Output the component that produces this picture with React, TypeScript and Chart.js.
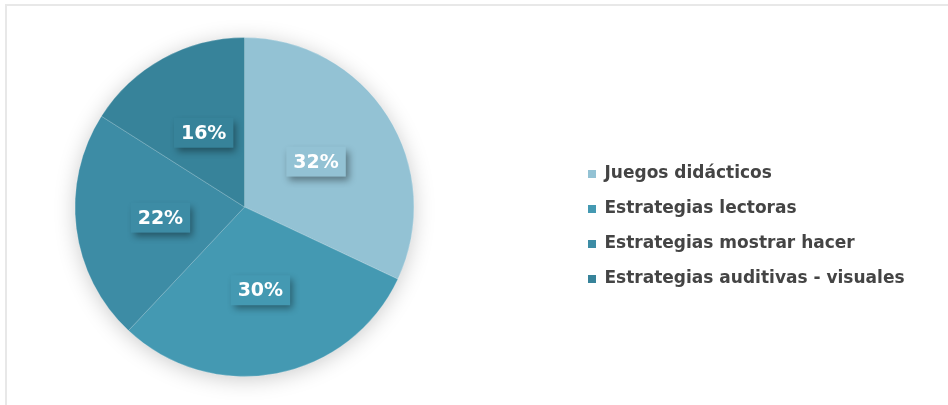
import React, { useEffect, useRef } from "react";
import { Chart, registerables } from "chart.js";

Chart.register(...registerables);

const categories = [
  "Juegos didácticos",
  "Estrategias lectoras",
  "Estrategias mostrar hacer",
  "Estrategias auditivas - visuales",
];
const values = [32, 30, 22, 16];
const sliceColors = ["#93C2D4", "#4499B2", "#3D8CA5", "#37839A"];

const LEGEND_FONT = '"DejaVu Sans"';
const LEGEND_SIZE = 17;
const LABEL_FONT = '"DejaVu Sans"';
const LABEL_SIZE = 19;

const SHIFT = 81;
const VIEW_W = 948;
const VIEW_H = 405;
const CANVAS_W = VIEW_W + SHIFT;

export default function App() {
  const ref = useRef<HTMLCanvasElement | null>(null);

  useEffect(() => {
    const canvas = ref.current;
    if (!canvas) return;

    const mctx = document.createElement("canvas").getContext("2d")!;
    mctx.font = `bold ${LEGEND_SIZE}px ${LEGEND_FONT}`;
    const tw = Math.max(...categories.map((c) => mctx.measureText(c).width));
    const boxW = 8;
    const labelPad = 18;
    const legendW = labelPad + boxW + LEGEND_SIZE / 2 + tw + 10;
    const chartRight = 570 + SHIFT;
    const padRight = Math.max(CANVAS_W - chartRight - legendW, 0);

    const frame = {
      id: "frame",
      beforeDraw(chart: any) {
        const ctx = chart.ctx;
        ctx.save();
        ctx.fillStyle = "#e8e8e8";
        ctx.fillRect(SHIFT + 5, 4, CANVAS_W - SHIFT - 5, 2);
        ctx.fillRect(SHIFT + 5, 4, 2, VIEW_H - 4);
        ctx.restore();
      },
    };

    const pieShadow = {
      id: "pieShadow",
      beforeDatasetsDraw(chart: any) {
        const arc = chart.getDatasetMeta(0).data[0];
        if (!arc) return;
        const ctx = chart.ctx;
        ctx.save();
        ctx.shadowColor = "rgba(0,0,0,0.22)";
        ctx.shadowBlur = 22;
        ctx.shadowOffsetX = 0;
        ctx.shadowOffsetY = 3;
        ctx.fillStyle = "#3D8CA5";
        ctx.beginPath();
        ctx.arc(arc.x, arc.y, arc.outerRadius - 1, 0, Math.PI * 2);
        ctx.fill();
        ctx.restore();
      },
    };

    const boxLabels = {
      id: "boxLabels",
      afterDatasetsDraw(chart: any) {
        const ctx = chart.ctx;
        const meta = chart.getDatasetMeta(0);
        meta.data.forEach((arc: any, i: number) => {
          const { x, y } = arc.tooltipPosition(false);
          const text = values[i] + "%";
          ctx.save();
          ctx.font = `bold ${LABEL_SIZE}px ${LABEL_FONT}`;
          const w = ctx.measureText(text).width + 14;
          const h = 30;
          ctx.shadowColor = "rgba(0,0,0,0.38)";
          ctx.shadowBlur = 7;
          ctx.shadowOffsetX = 3;
          ctx.shadowOffsetY = 4;
          ctx.fillStyle = sliceColors[i];
          ctx.fillRect(x - w / 2, y - h / 2, w, h);
          ctx.restore();
          ctx.save();
          ctx.font = `bold ${LABEL_SIZE}px ${LABEL_FONT}`;
          ctx.fillStyle = "#ffffff";
          ctx.textAlign = "center";
          ctx.textBaseline = "middle";
          ctx.fillText(text, x, y + 1);
          ctx.restore();
        });
      },
    };

    const chart = new Chart(canvas, {
      type: "pie",
      data: {
        labels: categories,
        datasets: [
          {
            data: values,
            backgroundColor: sliceColors,
            borderColor: "rgba(255,255,255,0.22)",
            borderWidth: 1,
          },
        ],
      },
      options: {
        responsive: false,
        animation: false,
        layout: {
          padding: { left: 0, top: 37, bottom: 28, right: padRight },
        },
        plugins: {
          tooltip: { enabled: false },
          legend: {
            position: "right",
            align: "center",
            title: {
              display: true,
              text: "",
              font: { size: 12 },
              padding: { top: 0, bottom: 24.6 },
            },
            labels: {
              boxWidth: boxW,
              boxHeight: 8,
              padding: labelPad,
              color: "#444444",
              font: { family: LEGEND_FONT, size: LEGEND_SIZE, weight: "bold" },
              generateLabels: (c: any) =>
                (Chart as any).overrides.pie.plugins.legend.labels
                  .generateLabels(c)
                  .map((l: any) => ({ ...l, lineWidth: 0, strokeStyle: "rgba(0,0,0,0)" })),
            },
          },
        },
      } as any,
      plugins: [frame, pieShadow, boxLabels],
    });

    return () => chart.destroy();
  }, []);

  return (
    <div
      style={{
        position: "absolute",
        left: 0,
        top: 0,
        width: VIEW_W,
        height: VIEW_H,
        overflow: "hidden",
      }}
    >
      <canvas
        ref={ref}
        width={CANVAS_W}
        height={VIEW_H}
        style={{ position: "absolute", left: -SHIFT, top: 0, width: CANVAS_W, height: VIEW_H }}
      />
    </div>
  );
}
